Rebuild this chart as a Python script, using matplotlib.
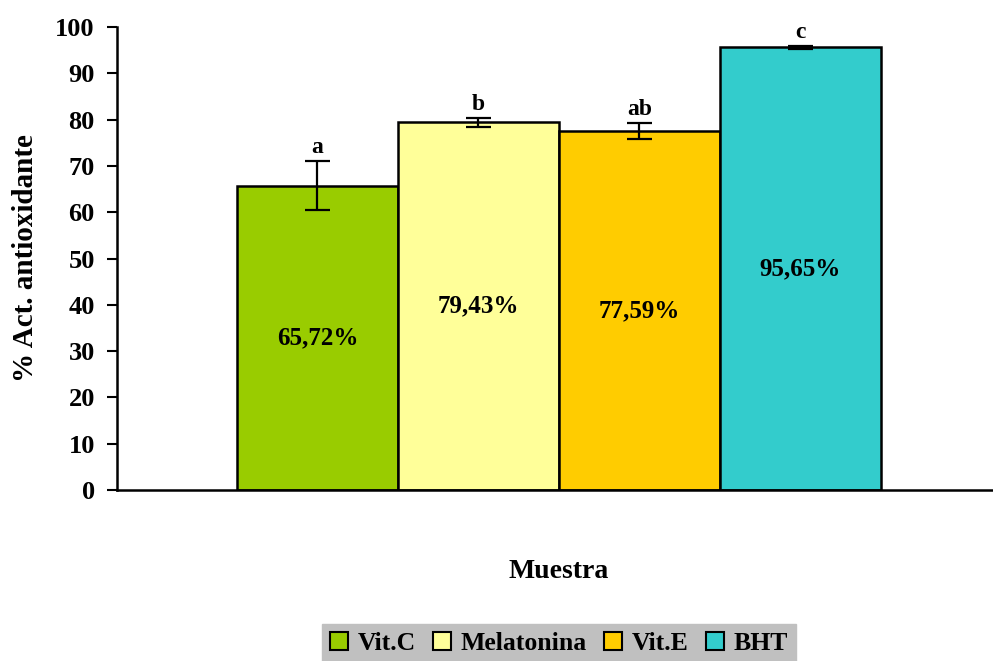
import matplotlib.pyplot as plt
from matplotlib.patches import Patch

plt.rcParams['font.family'] = ['Liberation Serif', 'DejaVu Serif']
plt.rcParams['font.weight'] = 'bold'

muestras = ["Vit.C", "Melatonina", "Vit.E", "BHT"]
actividad = [65.72, 79.43, 77.59, 95.65]
error = [5.35, 1.0, 1.7, 0.3]
letras = ["a", "b", "ab", "c"]
etiquetas = ["65,72%", "79,43%", "77,59%", "95,65%"]
colores = ["#99CC00", "#FFFF99", "#FFCC00", "#33CCCC"]

fig = plt.figure(figsize=(9.93, 6.61), dpi=100)
ax = fig.add_axes([117/993, 171/661, 876/993, 463/661])

pos = range(len(muestras))
ax.bar(pos, actividad, width=1.0, color=colores, edgecolor="black", linewidth=1.8)
ax.errorbar(pos, actividad, yerr=error, fmt="none", ecolor="black",
            elinewidth=1.6, capsize=9, capthick=1.6)

# letras de significancia y porcentaje dentro de cada barra
for i in pos:
    ax.annotate(letras[i], (i, actividad[i] + error[i]), xytext=(0, 2),
                textcoords="offset points", ha="center", va="bottom",
                fontsize=17, fontweight="bold")
    ax.text(i, actividad[i] / 2, etiquetas[i], ha="center", va="center",
            fontsize=18, fontweight="bold")

ax.set_xlim(-1.245, 4.196)
ax.set_ylim(0, 100)
ax.set_yticks(range(0, 101, 10))
ax.set_xticks([])
ax.tick_params(axis="y", direction="out", length=7, width=1.5, labelsize=19, pad=9)
for lab in ax.get_yticklabels():
    lab.set_fontweight("bold")
ax.spines["top"].set_visible(False)
ax.spines["right"].set_visible(False)
ax.spines["left"].set_linewidth(1.8)
ax.spines["bottom"].set_linewidth(1.8)

ax.set_ylabel("% Act. antioxidante", fontsize=21, fontweight="bold")
ax.yaxis.set_label_coords(-78/876, 0.5)
fig.text(559/993, 1 - 572/661, "Muestra", ha="center", va="center",
         fontsize=20, fontweight="bold")

handles = [Patch(facecolor=c, edgecolor="black", linewidth=1.5) for c in colores]
leg = fig.legend(handles, muestras, loc="center", bbox_to_anchor=(559/993, 1 - 643/661),
                 ncol=4, frameon=True, fancybox=False, fontsize=18.5,
                 handlelength=0.7, handleheight=0.7, handletextpad=0.4,
                 columnspacing=0.65, borderpad=0.3, borderaxespad=0)
leg.get_frame().set_facecolor("#C0C0C0")
leg.get_frame().set_edgecolor("#C0C0C0")
leg.get_frame().set_alpha(1)
for t in leg.get_texts():
    t.set_fontweight("bold")

plt.savefig("out.png", dpi=100)
